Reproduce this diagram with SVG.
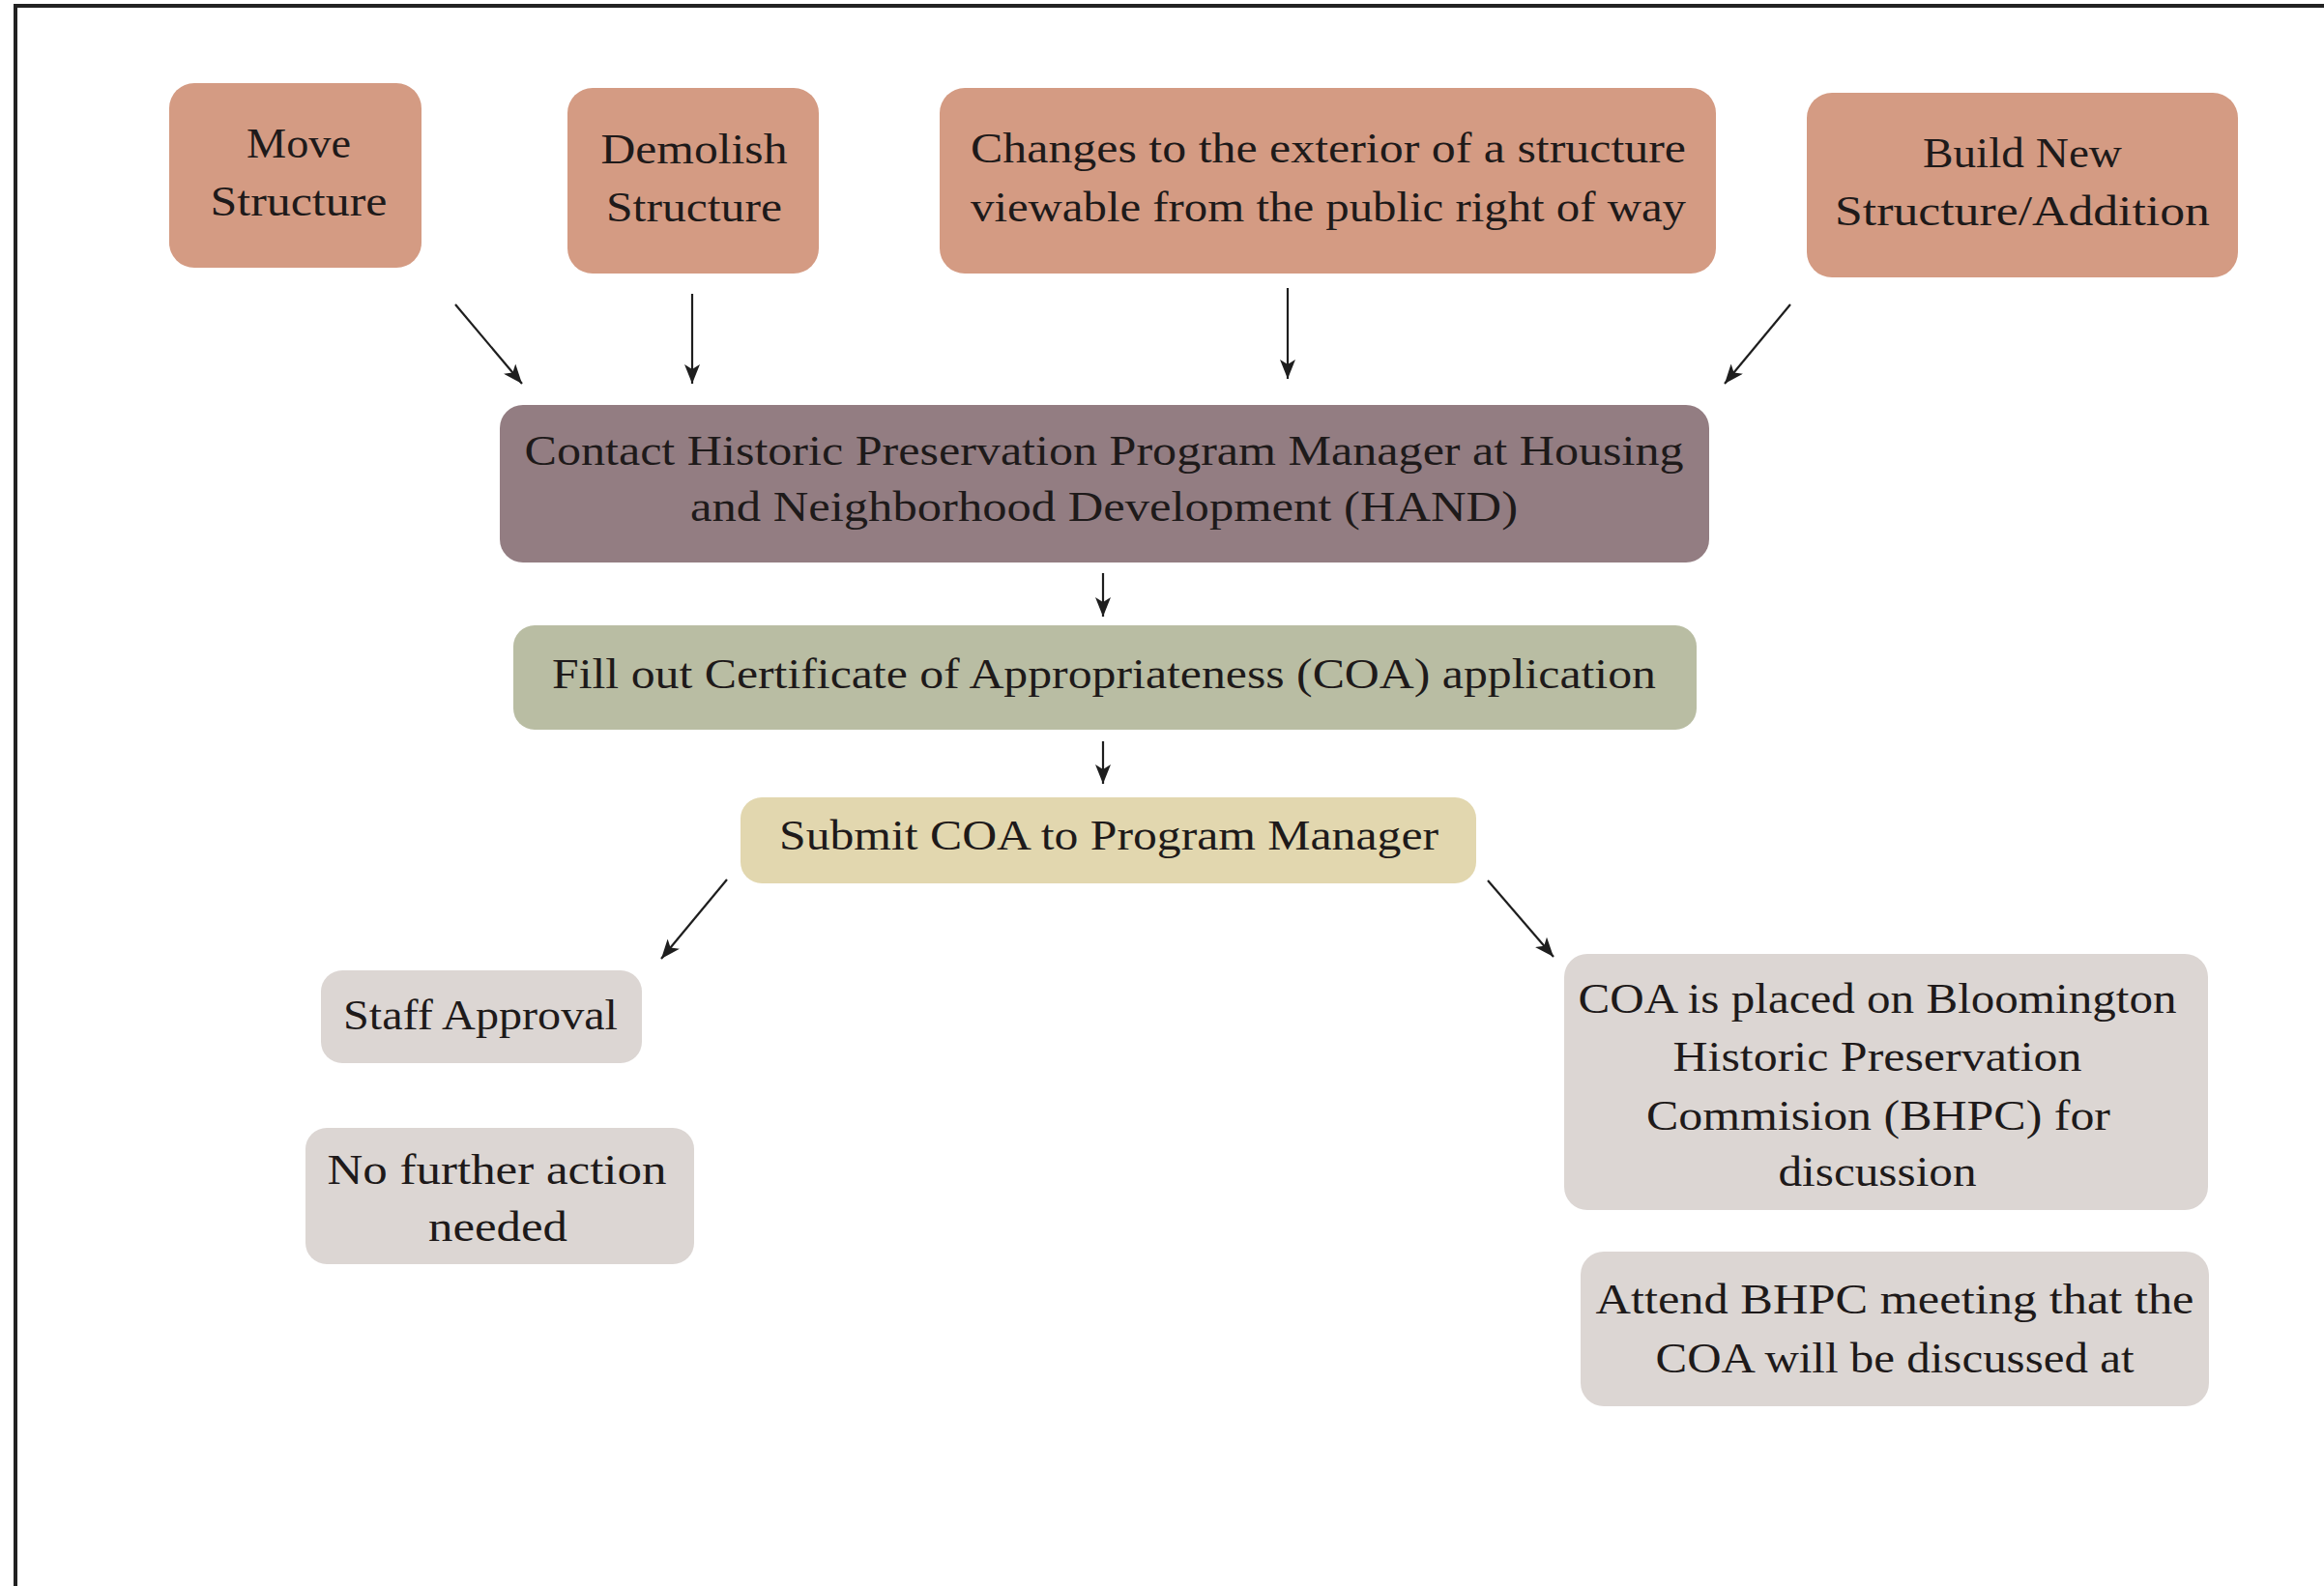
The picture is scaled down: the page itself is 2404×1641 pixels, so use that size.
<svg xmlns="http://www.w3.org/2000/svg" width="2404" height="1641" viewBox="0 0 2404 1641">
<style>
.t{font-family:"Liberation Serif","Times New Roman",serif;font-size:44px;fill:#1e1a1a;text-anchor:middle}
.c{stroke:#1e1e1e;stroke-width:2.2;fill:none;marker-end:url(#ah)}
.orange{fill:#D49B83}
.mauve{fill:#937D82}
.sage{fill:#B9BDA3}
.sand{fill:#E2D7AF}
.grey{fill:#DCD6D3}
</style>
<defs>
<marker id="ah" markerUnits="userSpaceOnUse" markerWidth="22" markerHeight="16" refX="20" refY="8" orient="auto">
<path d="M0,0 L20,8 L0,16 L5,8 Z" fill="#1e1e1e"/>
</marker>
</defs>
<rect width="2404" height="1641" fill="#ffffff"/>
<g id="frame" stroke="#222" stroke-width="4" fill="none">
<line x1="14" y1="6" x2="2404" y2="6"/>
<line x1="16" y1="4" x2="16" y2="1641"/>
</g>
<g id="move"><rect class="orange" x="175" y="86" width="261" height="191" rx="26"/>
<text class="t" x="309" y="163" textLength="108" lengthAdjust="spacingAndGlyphs">Move</text>
<text class="t" x="309" y="223" textLength="183" lengthAdjust="spacingAndGlyphs">Structure</text></g>
<g id="demolish"><rect class="orange" x="587" y="91" width="260" height="192" rx="26"/>
<text class="t" x="718" y="169" textLength="193" lengthAdjust="spacingAndGlyphs">Demolish</text>
<text class="t" x="718" y="229" textLength="182" lengthAdjust="spacingAndGlyphs">Structure</text></g>
<g id="changes"><rect class="orange" x="972" y="91" width="803" height="192" rx="26"/>
<text class="t" x="1374" y="168" textLength="740" lengthAdjust="spacingAndGlyphs">Changes to the exterior of a structure</text>
<text class="t" x="1374" y="229" textLength="740" lengthAdjust="spacingAndGlyphs">viewable from the public right of way</text></g>
<g id="build"><rect class="orange" x="1869" y="96" width="446" height="191" rx="26"/>
<text class="t" x="2092" y="173" textLength="206" lengthAdjust="spacingAndGlyphs">Build New</text>
<text class="t" x="2092" y="233" textLength="388" lengthAdjust="spacingAndGlyphs">Structure/Addition</text></g>
<g id="contact"><rect class="mauve" x="517" y="419" width="1251" height="163" rx="24"/>
<text class="t" x="1142" y="481" textLength="1199" lengthAdjust="spacingAndGlyphs">Contact Historic Preservation Program Manager at Housing</text>
<text class="t" x="1142" y="539" textLength="856" lengthAdjust="spacingAndGlyphs">and Neighborhood Development (HAND)</text></g>
<g id="fill"><rect class="sage" x="531" y="647" width="1224" height="108" rx="22"/>
<text class="t" x="1142" y="712" textLength="1142" lengthAdjust="spacingAndGlyphs">Fill out Certificate of Appropriateness (COA) application</text></g>
<g id="submit"><rect class="sand" x="766" y="825" width="761" height="89" rx="22"/>
<text class="t" x="1147" y="879" textLength="682" lengthAdjust="spacingAndGlyphs">Submit COA to Program Manager</text></g>
<g id="staff"><rect class="grey" x="332" y="1004" width="332" height="96" rx="22"/>
<text class="t" x="497" y="1065" textLength="284" lengthAdjust="spacingAndGlyphs">Staff Approval</text></g>
<g id="nofurther"><rect class="grey" x="316" y="1167" width="402" height="141" rx="22"/>
<text class="t" x="514" y="1225" textLength="351" lengthAdjust="spacingAndGlyphs">No further action</text>
<text class="t" x="515" y="1284" textLength="144" lengthAdjust="spacingAndGlyphs">needed</text></g>
<g id="coaplaced"><rect class="grey" x="1618" y="987" width="666" height="265" rx="24"/>
<text class="t" x="1942" y="1048" textLength="619" lengthAdjust="spacingAndGlyphs">COA is placed on Bloomington</text>
<text class="t" x="1942" y="1108" textLength="423" lengthAdjust="spacingAndGlyphs">Historic Preservation</text>
<text class="t" x="1943" y="1169" textLength="480" lengthAdjust="spacingAndGlyphs">Commision (BHPC) for</text>
<text class="t" x="1942" y="1227" textLength="205" lengthAdjust="spacingAndGlyphs">discussion</text></g>
<g id="attend"><rect class="grey" x="1635" y="1295" width="650" height="160" rx="24"/>
<text class="t" x="1960" y="1359" textLength="619" lengthAdjust="spacingAndGlyphs">Attend BHPC meeting that the</text>
<text class="t" x="1960" y="1420" textLength="495" lengthAdjust="spacingAndGlyphs">COA will be discussed at</text></g>
<g id="connectors">
<line class="c" x1="471" y1="315" x2="540" y2="397"/>
<line class="c" x1="716" y1="304" x2="716" y2="397"/>
<line class="c" x1="1332" y1="298" x2="1332" y2="392"/>
<line class="c" x1="1852" y1="315" x2="1784" y2="397"/>
<line class="c" x1="1141" y1="593" x2="1141" y2="638"/>
<line class="c" x1="1141" y1="767" x2="1141" y2="811"/>
<line class="c" x1="752" y1="910" x2="684" y2="992"/>
<line class="c" x1="1539" y1="911" x2="1607" y2="990"/>
</g>
</svg>
